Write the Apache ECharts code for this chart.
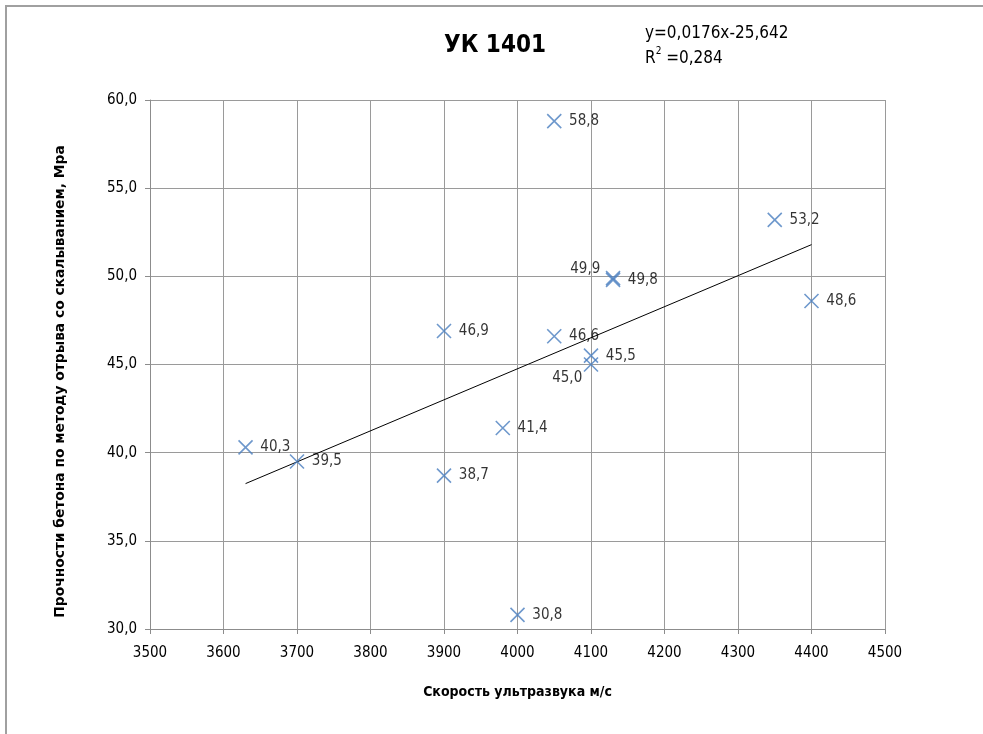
<!DOCTYPE html>
<html><head><meta charset="utf-8">
<script src="https://cdn.jsdelivr.net/npm/echarts@6/dist/echarts.min.js"></script>
<style>
html,body{margin:0;padding:0;background:#fff;overflow:hidden;}
#c{width:983px;height:734px;}
#frame{position:absolute;left:5px;top:5px;width:990px;height:740px;border-left:2px solid #a0a0a0;border-top:2px solid #a0a0a0;pointer-events:none;}
</style></head>
<body><div id="c"></div><div id="frame"></div>
<script>
const speeds   = [3630, 3700, 3900, 3900, 3980, 4000, 4050, 4050, 4100, 4100, 4130, 4130, 4350, 4400];
const strength = [40.3, 39.5, 46.9, 38.7, 41.4, 30.8, 58.8, 46.6, 45.5, 45.0, 49.9, 49.8, 53.2, 48.6];
const trendSlope = 0.0176;
const trendIntercept = -25.642;
const xTicks = ['3500','3600','3700','3800','3900','4000','4100','4200','4300','4400','4500'];
const yTicks = ['30,0','35,0','40,0','45,0','50,0','55,0','60,0'];

const FONT = '"Liberation Sans Narrow","DejaVu Sans Condensed","Open Sans",sans-serif';
const comma = v => v.toFixed(1).replace('.', ',');

const labelOverrides = {
  10: {position: [-35, -9]},
  9: {position: [-31, 14]}
};
const pts = speeds.map((x, i) => {
  const d = {value: [x, strength[i]]};
  if (labelOverrides[i]) d.label = labelOverrides[i];
  return d;
});
const xMin = Math.min(...speeds), xMax = Math.max(...speeds);
const trend = [xMin, xMax].map(x => [x, trendSlope * x + trendIntercept]);

const chart = echarts.init(document.getElementById('c'));
chart.setOption({
  animation: false,
  backgroundColor: '#fff',
  grid: {left: 150, right: 98, top: 100, bottom: 105},
  title: {text: 'УК 1401', left: 490, top: 29, textAlign: 'center',
    textStyle: {fontFamily: FONT, fontSize: 24, fontWeight: 'bold', color: '#000'}},
  graphic: [{
    type: 'text', left: 645, top: 21,
    style: {
      text: 'y=0,0176x-25,642\n{r|R}{s|2} {r|=0,284}',
      font: '17px ' + FONT, fill: '#000', lineHeight: 25,
      rich: {
        r: {font: '17px ' + FONT, fill: '#000', lineHeight: 25},
        s: {font: '10px ' + FONT, fill: '#000', verticalAlign: 'top', padding: [0,0,8,0], lineHeight: 25}
      }
    }
  }],
  xAxis: {
    type: 'value', min: 3500, max: 4500, interval: 100,
    name: 'Скорость ультразвука м/с', nameLocation: 'middle', nameGap: 56,
    nameTextStyle: {fontFamily: FONT, fontSize: 14, fontWeight: 'bold', color: '#000'},
    axisLine: {show: true, lineStyle: {color: '#8c8c8c', width: 1}},
    axisTick: {show: true, inside: false, length: 5, lineStyle: {color: '#8c8c8c'}},
    axisLabel: {fontFamily: FONT, fontSize: 15, color: '#000', margin: 17,
      formatter: v => xTicks[Math.round((v - 3500) / 100)]},
    splitLine: {show: true, lineStyle: {color: '#9a9a9a', width: 1}}
  },
  yAxis: {
    type: 'value', min: 30, max: 60, interval: 5,
    name: 'Прочности бетона по методу отрыва со скалыванием, Мра', nameLocation: 'middle', nameGap: 83,
    nameTextStyle: {fontFamily: '"DejaVu Sans",sans-serif', fontSize: 13.8, fontWeight: 'bold', color: '#000',
      padding: [0, 34, 0, 0]},
    axisLine: {show: true, lineStyle: {color: '#8c8c8c', width: 1}},
    axisTick: {show: true, inside: false, length: 5, lineStyle: {color: '#8c8c8c'}},
    axisLabel: {fontFamily: FONT, fontSize: 15, color: '#000', margin: 13,
      formatter: v => yTicks[Math.round((v - 30) / 5)]},
    splitLine: {show: true, lineStyle: {color: '#9a9a9a', width: 1}}
  },
  series: [
    {
      type: 'line', data: trend, showSymbol: false, symbol: 'none',
      lineStyle: {color: '#000', width: 1}, silent: true, z: 1
    },
    {
      type: 'scatter', data: pts, z: 3,
      symbol: 'path://M0,0L10,10M10,0L0,10', symbolSize: 14,
      itemStyle: {color: 'rgba(0,0,0,0)', borderColor: '#4a7ebf', borderWidth: 1.6},
      label: {show: true, position: 'right', distance: 7, fontFamily: FONT, fontSize: 15, color: '#000',
        formatter: p => comma(p.value[1])}
    }
  ]
});
</script></body></html>
